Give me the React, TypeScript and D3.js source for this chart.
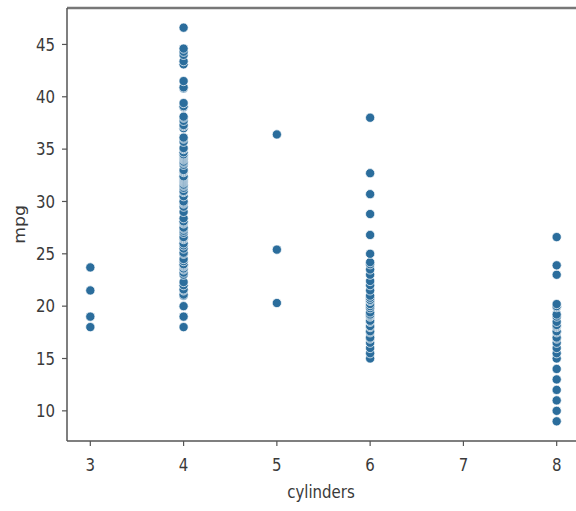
import React from "react";
import * as d3 from "d3";

const cyl3 = [18, 19, 21.5, 23.7];
const cyl4 = [18, 19, 20, 21, 21.1, 21.5, 21.6, 22, 22.3, 23, 23.2, 23.5, 23.6, 23.8, 23.9, 24, 24.3, 24.5, 25, 25.1, 25.5, 25.8, 26, 26.4, 26.5, 26.6, 27, 27.2, 27.4, 27.5, 27.9, 28, 28.1, 28.4, 29, 29.5, 29.8, 29.9, 30, 30.5, 30.9, 31, 31.3, 31.5, 31.6, 31.8, 31.9, 32, 32.1, 32.2, 32.3, 32.4, 32.8, 32.9, 33, 33.5, 33.7, 33.8, 34, 34.1, 34.2, 34.3, 34.4, 34.5, 34.7, 35, 35.1, 35.7, 36, 36.1, 37, 37.2, 37.3, 37.7, 38, 38.1, 39, 39.1, 39.4, 40.8, 40.9, 41.5, 43.1, 43.4, 44, 44.3, 44.6, 46.6];
const cyl5 = [20.3, 25.4, 36.4];
const cyl6 = [15, 15.5, 16, 16.5, 16.9, 17, 17.5, 17.6, 18, 18.1, 18.5, 18.6, 19, 19.1, 19.2, 19.4, 19.8, 20, 20.2, 20.5, 20.6, 20.8, 21, 21.5, 22, 22.4, 23, 23.5, 24, 24.2, 25, 26.8, 28.8, 30.7, 32.7, 38];
const cyl8 = [9, 10, 11, 12, 13, 14, 15, 15.5, 16, 16.5, 16.9, 17, 17.5, 17.6, 18, 18.1, 18.2, 18.5, 19, 19.2, 19.9, 20, 20.2, 23, 23.9, 26.6];
const groups: [number, number[]][] = [[3, cyl3], [4, cyl4], [5, cyl5], [6, cyl6], [8, cyl8]];
const xTicks = [3, 4, 5, 6, 7, 8];
const yTicks = [10, 15, 20, 25, 30, 35, 40, 45];

export default function App() {
  const W = 576, H = 511;
  const left = 67, right = 580, top = 8, bottom = 441;
  const x = d3.scaleLinear().domain([2.75, 8.25]).range([left, right]);
  const y = d3.scaleLinear().domain([7.12, 48.48]).range([bottom, top]);
  const points = groups.flatMap(([c, vals]) => vals.map((v) => ({ c, v })));
  const axisColor = "#555";
  const textColor = "#3a3a3a";
  const font = "DejaVu Sans, sans-serif";
  return (
    <svg width={W} height={H} style={{ position: "absolute", left: 0, top: 0, background: "#fff" }}>
      <rect x={0} y={0} width={W} height={H} fill="#fff" />
      {points.map((p, i) => (
        <circle key={i} cx={x(p.c)} cy={y(p.v)} r={4.6} fill="#2b6d9c" stroke="#fff" strokeWidth={0.7} />
      ))}
      <line x1={left} x2={W} y1={top} y2={top} stroke="#777" strokeWidth={2.5} />
      <line x1={left} x2={left} y1={top} y2={bottom} stroke={axisColor} strokeWidth={1.5} />
      <line x1={left} x2={W} y1={bottom} y2={bottom} stroke={axisColor} strokeWidth={1.5} />
      {xTicks.map((t) => (
        <g key={t} transform={`translate(${x(t)},0)`}>
          <line y1={bottom} y2={bottom + 5} stroke={axisColor} strokeWidth={1.2} />
          <text y={471} textAnchor="middle" fontSize={15} fontFamily={font} fill={textColor} transform={`translate(0,471) scale(1,1.15) translate(0,-471)`}>{t}</text>
        </g>
      ))}
      {yTicks.map((t) => (
        <g key={t} transform={`translate(0,${y(t)})`}>
          <line x1={left - 5} x2={left} stroke={axisColor} strokeWidth={1.2} />
          <text x={55} y={5.5} textAnchor="end" fontSize={15} fontFamily={font} fill={textColor} transform="scale(1,1.15)">{t}</text>
        </g>
      ))}
      <text x={321} y={498} textAnchor="middle" fontSize={15} fontFamily={font} fill={textColor} transform="translate(0,498) scale(1,1.15) translate(0,-498)">cylinders</text>
      <text transform={`translate(25,${(top + bottom) / 2}) rotate(-90) scale(1.15,1)`} textAnchor="middle" fontSize={15} fontFamily={font} fill={textColor}>mpg</text>
    </svg>
  );
}
